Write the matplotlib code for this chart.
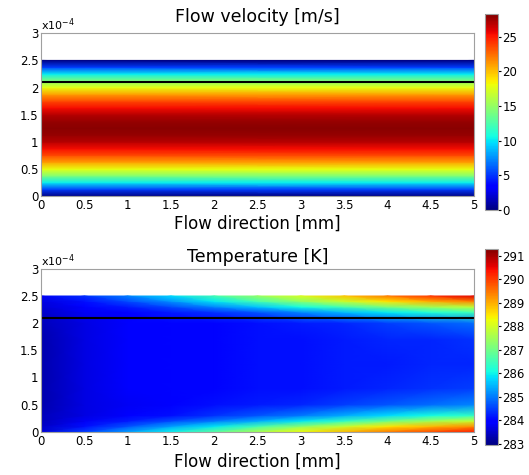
import matplotlib
matplotlib.use('Agg')
import matplotlib.pyplot as plt
import numpy as np

# channel height positions (m) and velocity profile
y_vel = np.array([0, 0.125, 0.25, 0.375, 0.5, 0.625, 0.75, 0.875, 1.0, 1.125, 1.25,
                  1.375, 1.5, 1.625, 1.75, 1.875, 2.0, 2.125, 2.25, 2.375, 2.5]) * 1e-4
u_vel = np.array([0.0, 5.3, 10.1, 14.3, 17.9, 21.0, 23.5, 25.4, 26.9, 27.7, 28.0,
                  27.7, 26.9, 25.4, 23.5, 21.0, 17.9, 14.3, 10.1, 5.3, 0.0])
x_vel = np.array([0.0, 5.0])

# temperature field: columns along flow direction (mm), rows across channel height
x_temp = np.array([0, 0.5, 1, 1.5, 2, 2.5, 3, 3.5, 4, 4.5, 5])
y_temp = np.array([0, 0.1, 0.2, 0.3, 0.5, 0.8, 1.25, 1.7, 2.0, 2.2, 2.3, 2.4, 2.5]) * 1e-4
T = np.array([
    [283.6, 284.5, 285.3, 286.0, 286.8, 287.6, 288.3, 288.9, 289.5, 289.9, 290.3],
    [283.5, 284.1, 284.7, 285.3, 285.9, 286.6, 287.3, 287.9, 288.5, 288.9, 289.3],
    [283.4, 283.8, 284.2, 284.6, 285.0, 285.4, 285.9, 286.4, 287.0, 287.5, 287.9],
    [283.4, 283.7, 283.9, 284.1, 284.4, 284.7, 285.0, 285.4, 285.8, 286.1, 286.4],
    [283.3, 283.7, 283.8, 283.9, 284.1, 284.2, 284.3, 284.5, 284.7, 284.9, 285.1],
    [283.3, 283.7, 283.9, 284.0, 284.0, 284.1, 284.1, 284.2, 284.3, 284.4, 284.5],
    [283.3, 283.7, 283.9, 284.0, 284.0, 284.1, 284.1, 284.2, 284.2, 284.3, 284.3],
    [283.3, 283.7, 283.9, 284.0, 284.0, 284.1, 284.1, 284.2, 284.3, 284.3, 284.4],
    [283.4, 283.7, 283.9, 284.0, 284.0, 284.1, 284.2, 284.3, 284.5, 284.7, 284.9],
    [283.5, 283.8, 284.0, 284.2, 284.4, 284.7, 285.1, 285.5, 285.9, 286.2, 286.5],
    [283.6, 283.9, 284.2, 284.6, 285.1, 285.6, 286.1, 286.6, 287.1, 287.5, 287.8],
    [283.7, 284.1, 284.6, 285.2, 285.9, 286.6, 287.3, 287.9, 288.5, 289.0, 289.4],
    [283.8, 284.4, 285.1, 285.8, 286.6, 287.4, 288.1, 288.8, 289.5, 290.1, 290.6],
])

interface_y = 2.1e-4
vel_ticks = [0, 5, 10, 15, 20, 25]
temp_ticks = [283, 284, 285, 286, 287, 288, 289, 290, 291]
x_ticks = [0, 0.5, 1, 1.5, 2, 2.5, 3, 3.5, 4, 4.5, 5]

fig = plt.figure(figsize=(5.29, 4.75), dpi=100)

def style_axes(ax, title, title_pad, label_pad):
    ax.set_xlim(0, 5)
    ax.set_ylim(0, 3e-4)
    ax.set_xticks(x_ticks)
    ax.set_xticklabels(['0', '0.5', '1', '1.5', '2', '2.5', '3', '3.5', '4', '4.5', '5'])
    ax.set_yticks([0, 0.5e-4, 1e-4, 1.5e-4, 2e-4, 2.5e-4, 3e-4])
    ax.set_yticklabels(['0', '0.5', '1', '1.5', '2', '2.5', '3'])
    ax.tick_params(labelsize=8.5, length=0, pad=2)
    ax.text(0.0, 1.0, r'x10$^{-4}$', transform=ax.transAxes, fontsize=8,
            ha='left', va='bottom')
    ax.set_title(title, fontsize=12.5, pad=title_pad)
    ax.set_xlabel('Flow direction [mm]', fontsize=12, labelpad=label_pad)
    for s in ax.spines.values():
        s.set_color('#a0a0a0')
        s.set_linewidth(0.8)

# velocity panel
ax1 = fig.add_axes([0.078, 0.587, 0.818, 0.343])
U = np.tile(u_vel[:, None], (1, len(x_vel)))
m1 = ax1.pcolormesh(x_vel, y_vel, U, cmap='jet', vmin=0, vmax=28.3, shading='gouraud')
ax1.axhline(interface_y, color='black', lw=1.5)
style_axes(ax1, 'Flow velocity [m/s]', 8, 2)
cax1 = fig.add_axes([0.917, 0.558, 0.025, 0.413])
cb1 = fig.colorbar(m1, cax=cax1, ticks=vel_ticks)
cb1.ax.tick_params(labelsize=8.5, length=2, pad=1)
cb1.outline.set_edgecolor('#a0a0a0')

# temperature panel
ax2 = fig.add_axes([0.078, 0.091, 0.818, 0.343])
m2 = ax2.pcolormesh(x_temp, y_temp, T, cmap='jet', vmin=282.95, vmax=291.3, shading='gouraud')
ax2.axhline(interface_y, color='black', lw=1.5)
style_axes(ax2, 'Temperature [K]', 5, 4)
cax2 = fig.add_axes([0.917, 0.063, 0.025, 0.413])
cb2 = fig.colorbar(m2, cax=cax2, ticks=temp_ticks)
cb2.ax.tick_params(labelsize=8.5, length=2, pad=1)
cb2.outline.set_edgecolor('#a0a0a0')

fig.savefig('out.png', dpi=100)
